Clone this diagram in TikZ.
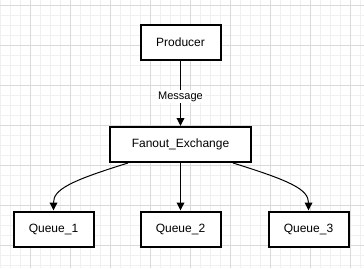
\documentclass[tikz,border=0pt]{standalone}
\usepackage{fontspec}
\setmainfont{Liberation Sans}
\usetikzlibrary{arrows.meta,calc}

\definecolor{gridminor}{HTML}{F0F0F0}
\definecolor{gridmajor}{HTML}{DADADA}

\begin{document}
\begin{tikzpicture}[x=0.75pt, y=-0.75pt,
    box/.style={draw, line width=1.5pt, fill=white, minimum height=26.25pt,
        inner sep=0pt, font=\fontsize{9}{11}\selectfont},
    link/.style={line width=0.75pt, -{Triangle[length=6pt, width=5.8pt]}}]

    \pgfmathsetmacro{\w}{364}
    \pgfmathsetmacro{\h}{268}

    % 背景の方眼
    \useasboundingbox (0,0) rectangle (\w,\h);
    \fill[white] (0,0) rectangle (\w,\h);
    \foreach \x in {0,10,...,360} {
        \draw[gridminor, line width=0.75pt] (\x,0) -- (\x,\h);
    }
    \foreach \y in {5,15,...,265} {
        \draw[gridminor, line width=0.75pt] (0,\y) -- (\w,\y);
    }
    \foreach \x in {30,70,...,350} {
        \draw[gridmajor, line width=0.75pt] (\x,0) -- (\x,\h);
    }
    \foreach \y in {5,45,...,245} {
        \draw[gridmajor, line width=0.75pt] (0,\y) -- (\w,\y);
    }

    % ノード
    \node[box, minimum width=60pt] (producer) at (180.5,42) {Producer};
    \node[box, minimum width=105.75pt] (fanout) at (180.5,144.5) {Fanout\_Exchange};
    \node[box, minimum width=60pt] (queue1) at (53.5,229) {Queue\_1};
    \node[box, minimum width=60pt] (queue2) at (180.5,229) {Queue\_2};
    \node[box, minimum width=60pt] (queue3) at (308.5,229) {Queue\_3};

    % 矢印
    \draw[link] (producer) -- node[pos=0.55, fill=white, inner sep=1.5pt,
        font=\fontsize{8.25}{10}\selectfont] (msg) {Message} (fanout);
    \draw[link] ($(fanout.south)+(-52.5,0)$) .. controls +(-58,18) and +(0,-21) .. (queue1.north);
    \draw[link] (fanout) -- (queue2);
    \draw[link] ($(fanout.south)+(52.5,0)$) .. controls +(58,18) and +(0,-21) .. (queue3.north);

\end{tikzpicture}
\end{document}
